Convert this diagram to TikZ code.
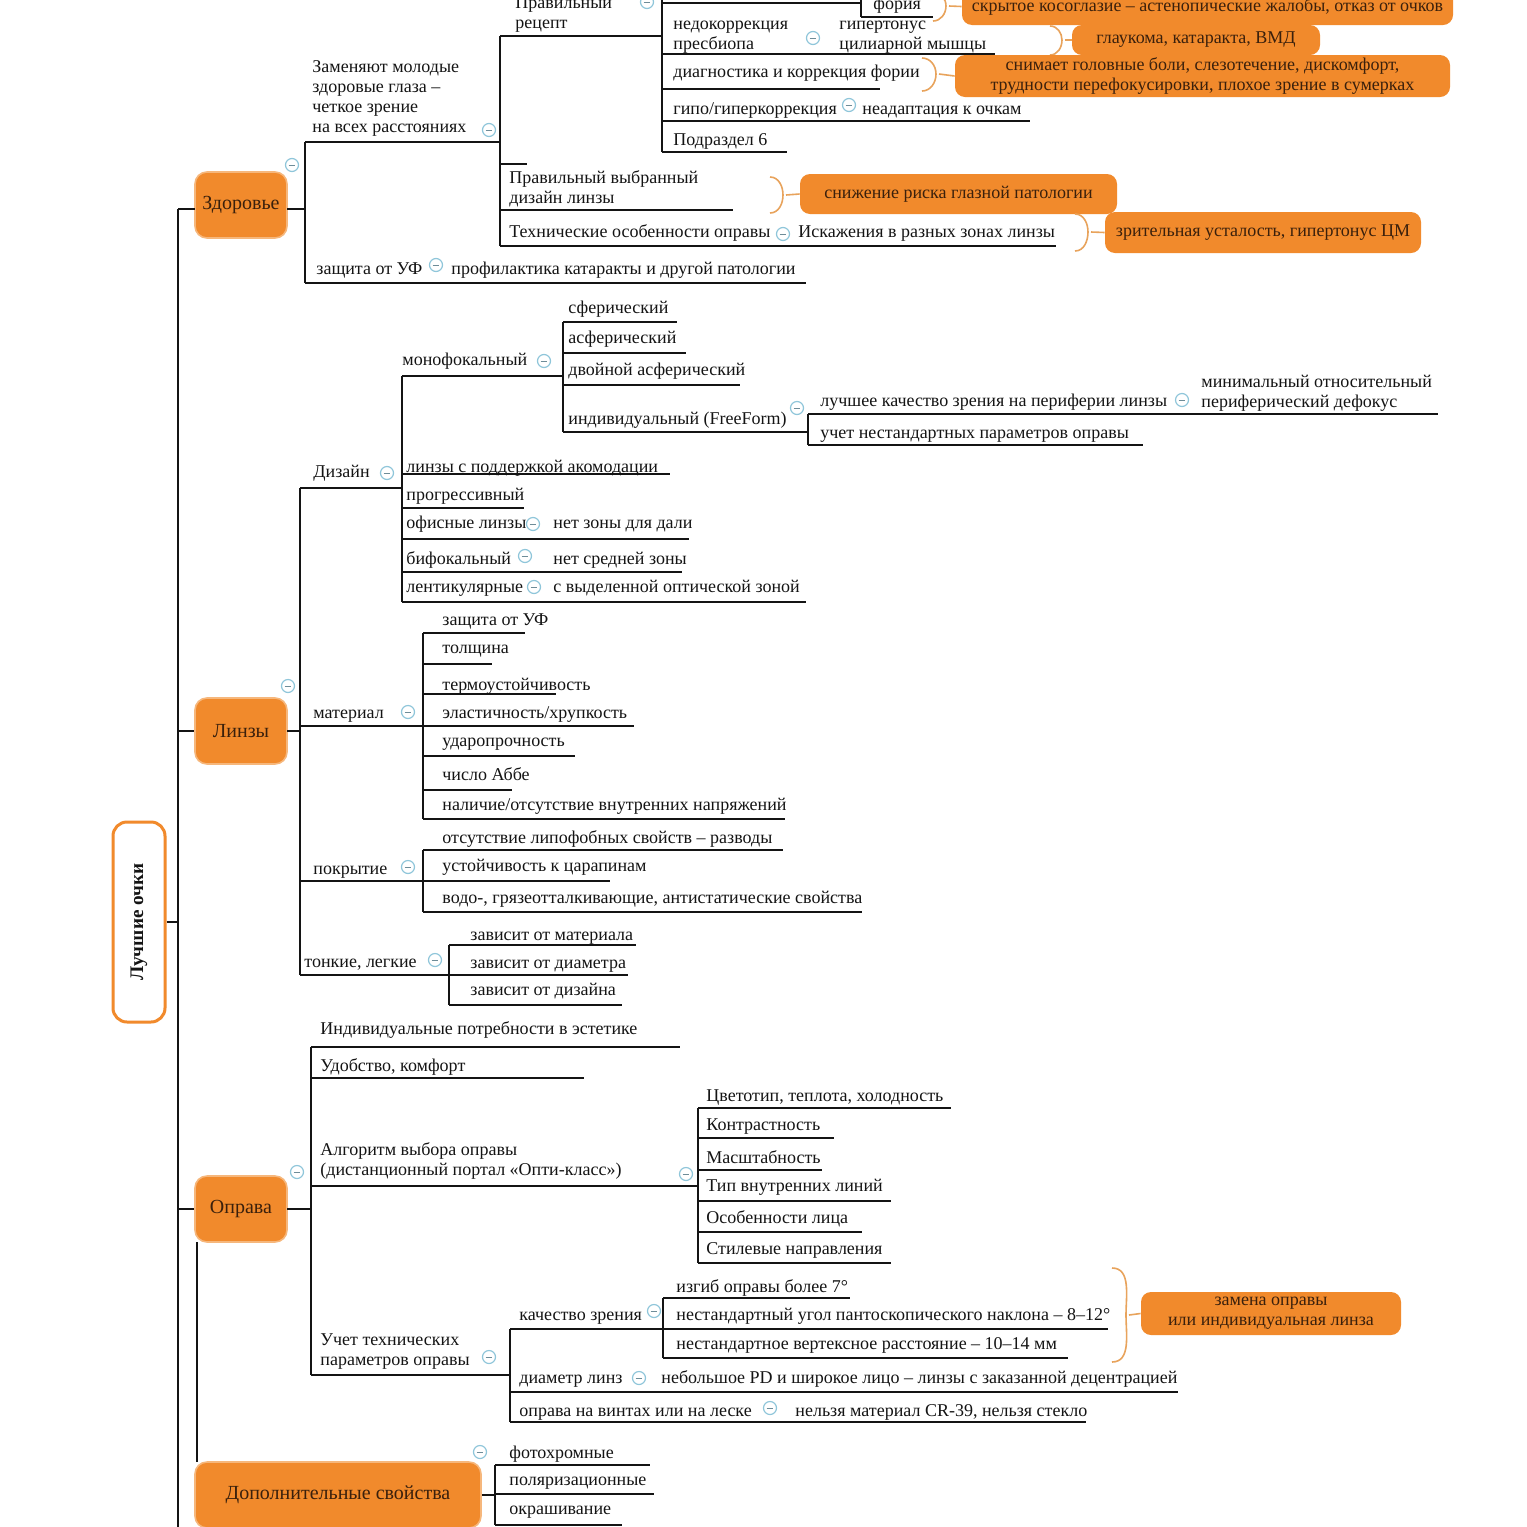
\documentclass[tikz,border=0pt]{standalone}
\usepackage{fontspec}
\setmainfont{Liberation Serif}
\definecolor{orbox}{HTML}{F18A2C}
\definecolor{orline}{HTML}{F6B77C}
\definecolor{brk}{HTML}{E8A35C}
\definecolor{icb}{HTML}{8FC6DA}
\definecolor{icd}{HTML}{6E8C98}
\definecolor{ink}{HTML}{141414}
\definecolor{boxtxt}{HTML}{3A200C}
\newcommand\fs{\fontsize{9pt}{10pt}\selectfont}
\newcommand\fb{\fontsize{10pt}{11pt}\selectfont}
\newcommand\fr{\fontsize{9.6pt}{11pt}\selectfont}
\begin{document}
\begin{tikzpicture}[x=0.5pt,y=-0.5pt,
 t/.style={inner sep=0pt, anchor=west, font=\fs, text=ink, text height=6.5pt, text depth=0pt},
 tm/.style={inner sep=0pt, anchor=west, font=\fs, text=ink, align=left, yshift=-1.25pt},
 ln/.style={line width=1pt, draw=ink},
 topic/.style={rounded corners=6pt, fill=orbox, draw=orline, line width=0.8pt, font=\fb, text=boxtxt, inner sep=0pt, minimum height=33pt},
 note/.style={rounded corners=5pt, fill=orbox, font=\fs, text=boxtxt, inner sep=0pt, align=center},
 colbtn/.style={circle, draw=icb, fill=white, line width=0.6pt, minimum size=6.5pt, inner sep=0pt,
   path picture={\draw[icd, line width=0.5pt] ([xshift=-1.7pt]path picture bounding box.center) -- ([xshift=1.7pt]path picture bounding box.center);}},
 brace/.style={draw=brk, line width=0.8pt},
]
\clip (0,0) rectangle (1527,1527);
\fill[white] (0,0) rectangle (1527,1527);

% ---------- root and main trunk
\node[rotate=90, draw=orbox, line width=1.5pt, rounded corners=7pt, fill=white, minimum width=100pt, minimum height=26pt, inner sep=0pt, font=\bfseries\fr, text=ink] (root) at (139,922) {Лучшие очки};
\draw[ln] (178,209) -- (178,1527);
\draw[ln] (root.south) -- (178,922);

% ---------- topics
\node[topic, minimum width=46pt] (zd) at (241,205) {Здоровье};
\node[topic, minimum width=46pt] (lz) at (241,731) {Линзы};
\node[topic, minimum width=46pt] (op) at (241,1209) {Оправа};
\node[topic, minimum width=143pt] (dp) at (338,1495) {Дополнительные свойства};
\draw[ln] (178,209) -- (195,209);
\draw[ln] (178,731) -- (lz.west);
\draw[ln] (178,1209) -- (op.west);
\draw[ln] (197,1242) -- (197,1462);

% ---------- Здоровье
\node[colbtn] (mzd) at (292,165) {};
\draw[ln] (287,209) -- (305,209);
\draw[ln] (305,142) -- (305,283);
\node[tm] (z1) at (312,96) {Заменяют молодые\\здоровые глаза –\\четкое зрение\\на всех расстояниях};
\node[colbtn] (mz1) at (489,130) {};
\draw[ln] (305,142) -- (500,142);
\draw[ln] (500,36) -- (500,246);
\node[tm] (pr) at (515,12) {Правильный\\рецепт};
\node[colbtn] (mpr) at (647,2) {};
\draw[ln] (500,36) -- (662,36);
\draw[ln] (662,-10) -- (662,152);
\draw[ln] (662,3) -- (861,3);
\draw[ln] (861,-10) -- (861,17);
\node[t] (fo) at (873,3) {фория};
\draw[ln] (861,17) -- (933,17);
\node[note, minimum width=245.5pt, minimum height=18.5pt] (skr) at (1207.5,6.5) {скрытое косоглазие – астенопические жалобы, отказ от очков};
\draw[brace] (933,-8) to[out=0,in=90] (946,6) to[out=-90,in=0] (933,21);
\draw[brace] (949,6) -- (skr.west);

\node[tm] (nk) at (673,34.5) {недокоррекция\\пресбиопа};
\node[colbtn] (mnk) at (813,38) {};
\node[tm] (gt) at (839,34.5) {гипертонус\\цилиарной мышцы};
\draw[ln] (662,54) -- (995,54);
\node[note, minimum width=124pt, minimum height=15pt] (gl) at (1196,40) {глаукома, катаракта, ВМД};
\draw[brace] (1050,26) to[out=0,in=90] (1062,40) to[out=-90,in=0] (1050,55);
\draw[brace] (1065,40) -- (gl.west);

\node[t] (dk) at (673,71) {диагностика и коррекция фории};
\draw[ln] (662,89) -- (880,89);
\node[note, minimum width=247.5pt, minimum height=21pt] (sn) at (1202.5,76) {снимает головные боли, слезотечение, дискомфорт,\\трудности перефокусировки, плохое зрение в сумерках};
\draw[brace] (922,58) to[out=0,in=90] (936,74) to[out=-90,in=0] (922,91);
\draw[brace] (939,74) -- (sn.west);

\node[t] (gg) at (673,108) {гипо/гиперкоррекция};
\node[colbtn] (mgg) at (849,105) {};
\node[t] (na) at (862,108) {неадаптация к очкам};
\draw[ln] (662,121) -- (1030,121);
\node[t] (ps) at (673,139) {Подраздел 6};
\draw[ln] (662,152) -- (787,152);

\draw[ln] (500,164) -- (527,164);
\node[tm] (pv) at (509,186) {Правильный выбранный\\дизайн линзы};
\draw[ln] (500,210) -- (733,210);
\node[note, minimum width=158.5pt, minimum height=20pt] (sr) at (958.5,194) {снижение риска глазной патологии};
\draw[brace] (770,177) to[out=0,in=90] (783,195) to[out=-90,in=0] (770,213);
\draw[brace] (786,195) -- (sr.west);

\node[t] (to) at (509,231) {Технические особенности оправы};
\node[colbtn] (mto) at (783,234) {};
\node[t] (is) at (798,231) {Искажения в разных зонах линзы};
\draw[ln] (500,246) -- (1056,246);
\node[note, minimum width=158pt, minimum height=20.5pt] (zu) at (1263,232.5) {зрительная усталость, гипертонус ЦМ};
\draw[brace] (1075,214) to[out=0,in=90] (1088,232) to[out=-90,in=0] (1075,251);
\draw[brace] (1091,232) -- (zu.west);

\node[t] (uf) at (316,268) {защита от УФ};
\node[colbtn] (muf) at (436,265) {};
\node[t] (pk) at (451,268) {профилактика катаракты и другой патологии};
\draw[ln] (305,283) -- (806,283);

% ---------- Линзы
\node[colbtn] (mlz) at (288,686) {};
\draw[ln] (287,731) -- (300,731);
\draw[ln] (300,488) -- (300,975);
\node[t] (ds) at (313,471) {Дизайн};
\node[colbtn] (mds) at (387,473) {};
\draw[ln] (300,488) -- (402,488);
\draw[ln] (402,376) -- (402,602);
\node[t] (mf) at (402,359) {монофокальный};
\node[colbtn] (mmf) at (544,361) {};
\draw[ln] (402,376) -- (563,376);
\draw[ln] (563,322) -- (563,432);
\node[t] (sf) at (568,307) {сферический};
\draw[ln] (563,322) -- (677,322);
\node[t] (as) at (568,337) {асферический};
\draw[ln] (563,353) -- (686,353);
\node[t] (da) at (568,369) {двойной асферический};
\draw[ln] (563,385) -- (740,385);
\node[t] (ff) at (568,418) {индивидуальный (FreeForm)};
\node[colbtn] (mff) at (797,408) {};
\draw[ln] (563,432) -- (808,432);
\draw[ln] (808,414) -- (808,445);
\node[t] (lk) at (820,400) {лучшее качество зрения на периферии линзы};
\node[colbtn] (mlk) at (1182,400) {};
\node[tm] (md) at (1201,391) {минимальный относительный\\периферический дефокус};
\draw[ln] (808,414) -- (1438,414);
\node[t] (un) at (820,432) {учет нестандартных параметров оправы};
\draw[ln] (808,445) -- (1143,445);
\node[t] (la) at (406,466) {линзы с поддержкой акомодации};
\draw[ln] (402,474) -- (670,474);
\node[t] (pg) at (406,494) {прогрессивный};
\draw[ln] (402,508) -- (524,508);
\node[t] (of) at (406,522) {офисные линзы};
\node[colbtn] (mof) at (533,524) {};
\node[t] (nd) at (553,522) {нет зоны для дали};
\draw[ln] (402,539) -- (689,539);
\node[t] (bf) at (406,558) {бифокальный};
\node[colbtn] (mbf) at (525,556) {};
\node[t] (ns) at (553,558) {нет средней зоны};
\draw[ln] (402,572) -- (682,572);
\node[t] (lt) at (406,586) {лентикулярные};
\node[colbtn] (mlt) at (534,587) {};
\node[t] (vo) at (553,586) {с выделенной оптической зоной};
\draw[ln] (402,602) -- (806,602);

\node[t] (mt) at (313,712) {материал};
\node[colbtn] (mmt) at (408,712) {};
\draw[ln] (300,726) -- (423,726);
\draw[ln] (423,633) -- (423,819);
\node[t] (m1) at (442,619) {защита от УФ};
\draw[ln] (423,633) -- (525,633);
\node[t] (m2) at (442,647) {толщина};
\draw[ln] (423,664) -- (492,664);
\node[t] (m3) at (442,684) {термоустойчивость};
\draw[ln] (423,694) -- (556,694);
\node[t] (m4) at (442,712) {эластичность/хрупкость};
\draw[ln] (423,726) -- (634,726);
\node[t] (m5) at (442,740) {ударопрочность};
\draw[ln] (423,756) -- (575,756);
\node[t] (m6) at (442,774) {число Аббе};
\draw[ln] (423,790) -- (512,790);
\node[t] (m7) at (442,804) {наличие/отсутствие внутренних напряжений};
\draw[ln] (423,819) -- (785,819);

\node[t] (pc) at (313,868) {покрытие};
\node[colbtn] (mpc) at (408,867) {};
\draw[ln] (300,881) -- (423,881);
\draw[ln] (423,850) -- (423,912);
\node[t] (p1) at (442,837) {отсутствие липофобных свойств – разводы};
\draw[ln] (423,850) -- (783,850);
\node[t] (p2) at (442,865) {устойчивость к царапинам};
\draw[ln] (423,881) -- (610,881);
\node[t] (p3) at (442,897) {водо-, грязеотталкивающие, антистатические свойства};
\draw[ln] (423,912) -- (862,912);

\node[t] (tl) at (304,961) {тонкие, легкие};
\node[colbtn] (mtl) at (435,960) {};
\draw[ln] (300,975) -- (449,975);
\draw[ln] (449,945) -- (449,1005);
\node[t] (t1) at (470,934) {зависит от материала};
\draw[ln] (449,945) -- (636,945);
\node[t] (t2) at (470,962) {зависит от диаметра};
\draw[ln] (449,975) -- (628,975);
\node[t] (t3) at (470,989) {зависит от дизайна};
\draw[ln] (449,1005) -- (622,1005);

% ---------- Оправа
\node[colbtn] (mop) at (297,1172) {};
\draw[ln] (287,1209) -- (311,1209);
\draw[ln] (311,1047) -- (311,1375);
\node[t] (o1) at (320,1028) {Индивидуальные потребности в эстетике};
\draw[ln] (311,1047) -- (680,1047);
\node[t] (o2) at (320,1065) {Удобство, комфорт};
\draw[ln] (311,1078) -- (584,1078);
\node[tm] (o3) at (320,1158) {Алгоритм выбора оправы\\(дистанционный портал «Опти-класс»)};
\node[colbtn] (mo3) at (686,1174) {};
\draw[ln] (311,1186) -- (698,1186);
\draw[ln] (698,1108) -- (698,1263);
\node[t] (a1) at (706,1095) {Цветотип, теплота, холодность};
\draw[ln] (698,1108) -- (951,1108);
\node[t] (a2) at (706,1124) {Контрастность};
\draw[ln] (698,1138) -- (834,1138);
\node[t] (a3) at (706,1157) {Масштабность};
\draw[ln] (698,1170) -- (822,1170);
\node[t] (a4) at (706,1185) {Тип внутренних линий};
\draw[ln] (698,1201) -- (891,1201);
\node[t] (a5) at (706,1217) {Особенности лица};
\draw[ln] (698,1232) -- (862,1232);
\node[t] (a6) at (706,1248) {Стилевые направления};
\draw[ln] (698,1263) -- (891,1263);

\node[tm] (o4) at (320,1349) {Учет технических\\параметров оправы};
\node[colbtn] (mo4) at (489,1357) {};
\draw[ln] (311,1375) -- (510,1375);
\draw[ln] (510,1329) -- (510,1422);
\node[t] (kz) at (519,1314) {качество зрения};
\node[colbtn] (mkz) at (654,1311) {};
\draw[ln] (510,1329) -- (663,1329);
\draw[ln] (663,1298) -- (663,1358);
\node[t] (k1) at (676,1286) {изгиб оправы более 7°};
\draw[ln] (663,1298) -- (850,1298);
\node[t] (k2) at (676,1314) {нестандартный угол пантоскопического наклона – 8–12°};
\draw[ln] (663,1329) -- (1108,1329);
\node[t] (k3) at (676,1343) {нестандартное вертексное расстояние – 10–14 мм};
\draw[ln] (663,1358) -- (1068,1358);
\node[note, minimum width=130pt, minimum height=21.5pt] (zo) at (1271,1313.5) {замена оправы\\или индивидуальная линза};
\draw[brace] (1112,1268) to[out=0,in=90] (1126,1315) to[out=-90,in=0] (1112,1362);
\draw[brace] (1129,1315) -- (zo.west);

\node[t] (dl) at (519,1377) {диаметр линз};
\node[colbtn] (mdl) at (639,1378) {};
\node[t] (pd) at (661,1377) {небольшое PD и широкое лицо – линзы с заказанной децентрацией};
\draw[ln] (510,1392) -- (1178,1392);
\node[t] (vl) at (519,1410) {оправа на винтах или на леске};
\node[colbtn] (mvl) at (770,1408) {};
\node[t] (cr) at (795,1410) {нельзя материал CR-39, нельзя стекло};
\draw[ln] (510,1422) -- (1086,1422);

% ---------- Дополнительные свойства
\node[colbtn] (mdp) at (480,1452) {};
\draw[ln] (dp.east) -- (495,1495);
\draw[ln] (495,1465) -- (495,1525);
\node[t] (d1) at (509,1452) {фотохромные};
\draw[ln] (495,1465) -- (650,1465);
\node[t] (d2) at (509,1479) {поляризационные};
\draw[ln] (495,1494) -- (654,1494);
\node[t] (d3) at (509,1508) {окрашивание};
\draw[ln] (495,1525) -- (622,1525);
\end{tikzpicture}
\end{document}
